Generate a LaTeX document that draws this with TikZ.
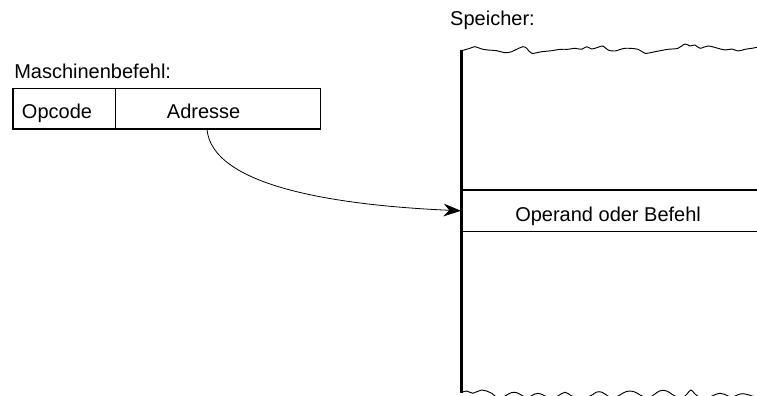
\documentclass[tikz,border=0pt]{standalone}
\usepackage{fontspec}
\setmainfont{Liberation Sans}
\usetikzlibrary{arrows.meta}
\begin{document}
\begin{tikzpicture}[x=0.75pt,y=-0.75pt,
  lbl/.style={inner sep=0pt,font=\fontsize{15}{18}\selectfont},
  field/.style={draw,line width=1.1pt,inner sep=0pt,minimum height=30.4pt},
  rule/.style={line width=1.1pt},
  wall/.style={line width=2.25pt},
  wave/.style={line width=0.7pt,line join=round},
  link/.style={line width=0.6pt,-{Stealth[length=13pt,width=9.5pt]}}]
\useasboundingbox (0,0) rectangle (757,396);

% instruction word
\node[lbl,anchor=base west] (title) at (14,78) {Maschinenbefehl:};
\node[field,minimum width=76.9pt] (opcode) at (64.2,108.5) {};
\node[field,minimum width=154.1pt] (adresse) at (218,108.5) {};
\node[lbl,anchor=base west] (opcodeText) at (21.7,118) {Opcode};
\node[lbl,anchor=base west] (adresseText) at (166.7,118) {Adresse};

% memory column
\node[lbl,anchor=base east] (memtitle) at (535,25.5) {Speicher:};
\coordinate (memtop) at (461.5,49.5);
\coordinate (membot) at (461.5,393);
\draw[wall] (memtop) -- (membot);

\node[inner sep=0pt,minimum width=222pt,minimum height=30.9pt] (cell) at (609.25,210.8) {};
\draw[rule] (cell.north west) -- (cell.north east);
\draw[rule] (cell.south west) -- (cell.south east);
\node[lbl,anchor=base west] (cellText) at (515,221.7) {Operand oder Befehl};

% torn upper and lower edges of the memory
\begin{scope}
\clip (0,0) rectangle (757,396);
\draw[wave] plot[smooth,tension=0.55] coordinates {
  (461.7,50.7) (470,48.3) (475,46.7) (481.7,49) (488,50) (496.7,50.7)
  (505,52.7) (511.7,51.7) (516.7,49.3) (523,46.7) (526.7,48.3) (531.7,53.3)
  (541.7,51.7) (551.7,50.7) (560,49.3) (568,49.3) (575,48.3) (581.7,49.3)
  (586.7,46.7) (591.7,49) (598,47.3) (603,46) (608,50) (615,51) (625,48.3)
  (638,49.3) (645,53.3) (655,51.7) (668,49.3) (678,48.3) (685,44) (690,46)
  (695,45) (700,48.3) (708,46) (718,48.3) (725,50) (732,49) (738,51)
  (745,49.3) (752,48.3) (757,47.3)};
\draw[wave] plot[smooth,tension=0.8] coordinates {
  (462,392.3) (466.7,391) (470,392.3) (473,393.3) (476.7,391.7) (481.7,390)
  (486.7,391) (491.7,393.3) (495,396) (500,398.5) (505,396) (514,392.3)
  (523,396) (527,398.5) (531,396) (538,393.3) (545,396) (551,398.5)
  (558,396) (565,392.3) (572,396) (581,398.5) (590,396) (599,391.7)
  (608,396) (613,398.5) (618,396) (630,391) (642,396) (647,398.5)
  (652,396) (663,390.3) (675,396) (681,398.5) (687,394) (691,390)
  (695,394) (703,398.5) (712,396) (720,393.3) (728,396) (731,398)
  (735,396) (743,393.7) (752,396) (757,397)};
\end{scope}

% address points into memory
\coordinate (src) at (207,129.3);
\draw[link] (src) .. controls (212,185) and (330,205) .. (cell.west);
\end{tikzpicture}
\end{document}
